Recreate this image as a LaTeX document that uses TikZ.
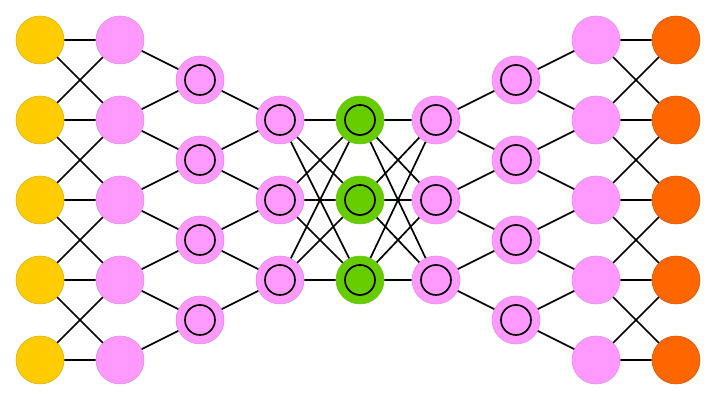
\documentclass[tikz,border=0pt]{standalone}
\usepackage{tikz}

\definecolor{inYellow}{HTML}{FFCC00}
\definecolor{inYellowD}{HTML}{D9AD00}
\definecolor{hidPink}{HTML}{FF99FF}
\definecolor{hidPinkD}{HTML}{E08AE0}
\definecolor{codeGreen}{HTML}{66CC00}
\definecolor{outOrange}{HTML}{FF6600}
\definecolor{outOrangeD}{HTML}{CC5500}

\tikzstyle{unit} = [circle, minimum size = 1.2cm, inner sep = 0pt, line width = 0.4pt]
\tikzstyle{inUnit} = [unit, fill = inYellow, draw = inYellowD]
\tikzstyle{hidUnit} = [unit, fill = hidPink, draw = hidPinkD]
\tikzstyle{outUnit} = [unit, fill = outOrange, draw = outOrangeD]
\tikzstyle{convUnit} = [hidUnit,
                        path picture = {\draw[black, line width = 1.2pt] (path picture bounding box.center) circle (0.375cm);}
                        ]
\tikzstyle{codeUnit} = [convUnit, fill = codeGreen, draw = codeGreen]
\tikzstyle{link} = [line width = 1.2pt]

\begin{document}
\begin{tikzpicture}

    \useasboundingbox (0, 0) rectangle (18.2, 10.2);

    %%% Units
    % Input %
    \node (I1) at (1, 9.2) [inUnit]{};
    \node (I2) at (1, 7.2) [inUnit]{};
    \node (I3) at (1, 5.2) [inUnit]{};
    \node (I4) at (1, 3.2) [inUnit]{};
    \node (I5) at (1, 1.2) [inUnit]{};

    % Encoder %
    \node (A1) at (3, 9.2) [hidUnit]{};
    \node (A2) at (3, 7.2) [hidUnit]{};
    \node (A3) at (3, 5.2) [hidUnit]{};
    \node (A4) at (3, 3.2) [hidUnit]{};
    \node (A5) at (3, 1.2) [hidUnit]{};

    \node (B1) at (5, 8.2) [convUnit]{};
    \node (B2) at (5, 6.2) [convUnit]{};
    \node (B3) at (5, 4.2) [convUnit]{};
    \node (B4) at (5, 2.2) [convUnit]{};

    \node (C1) at (7, 7.2) [convUnit]{};
    \node (C2) at (7, 5.2) [convUnit]{};
    \node (C3) at (7, 3.2) [convUnit]{};

    % Code %
    \node (G1) at (9, 7.2) [codeUnit]{};
    \node (G2) at (9, 5.2) [codeUnit]{};
    \node (G3) at (9, 3.2) [codeUnit]{};

    % Decoder %
    \node (D1) at (10.9, 7.2) [convUnit]{};
    \node (D2) at (10.9, 5.2) [convUnit]{};
    \node (D3) at (10.9, 3.2) [convUnit]{};

    \node (E1) at (12.9, 8.2) [convUnit]{};
    \node (E2) at (12.9, 6.2) [convUnit]{};
    \node (E3) at (12.9, 4.2) [convUnit]{};
    \node (E4) at (12.9, 2.2) [convUnit]{};

    \node (F1) at (14.9, 9.2) [hidUnit]{};
    \node (F2) at (14.9, 7.2) [hidUnit]{};
    \node (F3) at (14.9, 5.2) [hidUnit]{};
    \node (F4) at (14.9, 3.2) [hidUnit]{};
    \node (F5) at (14.9, 1.2) [hidUnit]{};

    % Output %
    \node (O1) at (16.9, 9.2) [outUnit]{};
    \node (O2) at (16.9, 7.2) [outUnit]{};
    \node (O3) at (16.9, 5.2) [outUnit]{};
    \node (O4) at (16.9, 3.2) [outUnit]{};
    \node (O5) at (16.9, 1.2) [outUnit]{};

    %%% Links
    % Input -> A
    \draw[link] (I1) -- (A1) (I1) -- (A2);
    \draw[link] (I2) -- (A1) (I2) -- (A2) (I2) -- (A3);
    \draw[link] (I3) -- (A2) (I3) -- (A3) (I3) -- (A4);
    \draw[link] (I4) -- (A3) (I4) -- (A4) (I4) -- (A5);
    \draw[link] (I5) -- (A4) (I5) -- (A5);

        % A -> B
        \draw[link] (A1) -- (B1);
        \draw[link] (A2) -- (B1) (A2) -- (B2);
        \draw[link] (A3) -- (B2) (A3) -- (B3);
        \draw[link] (A4) -- (B3) (A4) -- (B4);
        \draw[link] (A5) -- (B4);

        % B -> C
        \draw[link] (B1) -- (C1);
        \draw[link] (B2) -- (C1) (B2) -- (C2);
        \draw[link] (B3) -- (C2) (B3) -- (C3);
        \draw[link] (B4) -- (C3);

    % C -> Code
    \draw[link] (C1) -- (G1) (C1) -- (G2) (C1) -- (G3);
    \draw[link] (C2) -- (G1) (C2) -- (G2) (C2) -- (G3);
    \draw[link] (C3) -- (G1) (C3) -- (G2) (C3) -- (G3);

    % Code -> D
    \draw[link] (G1) -- (D1) (G1) -- (D2) (G1) -- (D3);
    \draw[link] (G2) -- (D1) (G2) -- (D2) (G2) -- (D3);
    \draw[link] (G3) -- (D1) (G3) -- (D2) (G3) -- (D3);

        % D -> E
        \draw[link] (D1) -- (E1) (D1) -- (E2);
        \draw[link] (D2) -- (E2) (D2) -- (E3);
        \draw[link] (D3) -- (E3) (D3) -- (E4);

        % E -> F
        \draw[link] (E1) -- (F1) (E1) -- (F2);
        \draw[link] (E2) -- (F2) (E2) -- (F3);
        \draw[link] (E3) -- (F3) (E3) -- (F4);
        \draw[link] (E4) -- (F4) (E4) -- (F5);

    % F -> Output
    \draw[link] (F1) -- (O1) (F1) -- (O2);
    \draw[link] (F2) -- (O1) (F2) -- (O2) (F2) -- (O3);
    \draw[link] (F3) -- (O2) (F3) -- (O3) (F3) -- (O4);
    \draw[link] (F4) -- (O3) (F4) -- (O4) (F4) -- (O5);
    \draw[link] (F5) -- (O4) (F5) -- (O5);

\end{tikzpicture}
\end{document}
